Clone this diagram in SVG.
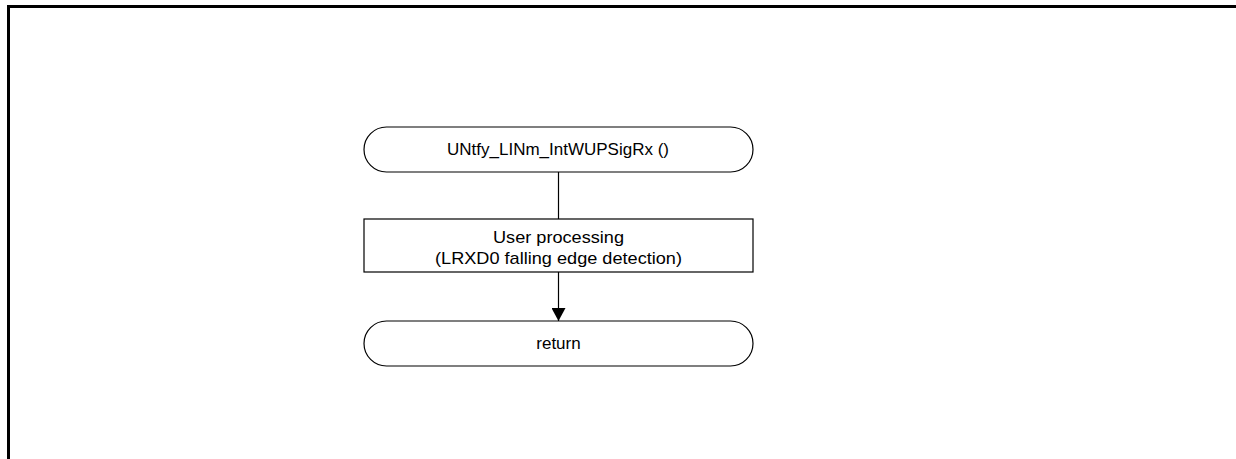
<svg xmlns="http://www.w3.org/2000/svg" width="1236" height="459" viewBox="0 0 1236 459">
<style>
.shape{fill:#fff;stroke:#000;stroke-width:1.2}
.lbl{font-family:"Liberation Sans",Arial,sans-serif;font-size:17px;fill:#000;text-anchor:middle}
.conn{stroke:#000;stroke-width:1.2;fill:none}
</style>
<defs>
<marker id="arr" viewBox="0 0 13 14" refX="13" refY="7" markerWidth="13" markerHeight="14" markerUnits="userSpaceOnUse" orient="auto">
<path d="M0,0 L13,7 L0,14 Z" fill="#000"/>
</marker>
</defs>
<rect x="0" y="0" width="1236" height="459" fill="#fff"/>
<path d="M8.5,459 L8.5,6.5 L1236,6.5" fill="none" stroke="#000" stroke-width="3"/>
<g id="connectors">
<line class="conn" x1="558.5" y1="172" x2="558.5" y2="219"/>
<line class="conn" x1="558.5" y1="272" x2="558.5" y2="321" marker-end="url(#arr)"/>
</g>
<g id="start">
<rect class="shape" x="364" y="127" width="389" height="45" rx="22.5" ry="22.5"/>
<text class="lbl" x="558" y="154.5" textLength="222" lengthAdjust="spacingAndGlyphs">UNtfy_LINm_IntWUPSigRx ()</text>
</g>
<g id="process">
<rect class="shape" x="364" y="219" width="389" height="53"/>
<text class="lbl" x="558.5" y="242.5" textLength="131" lengthAdjust="spacingAndGlyphs">User processing</text>
<text class="lbl" x="558.5" y="263.5" textLength="247" lengthAdjust="spacingAndGlyphs">(LRXD0 falling edge detection)</text>
</g>
<g id="end">
<rect class="shape" x="364" y="321" width="389" height="45" rx="22.5" ry="22.5"/>
<text class="lbl" x="558.5" y="348.5">return</text>
</g>
</svg>
